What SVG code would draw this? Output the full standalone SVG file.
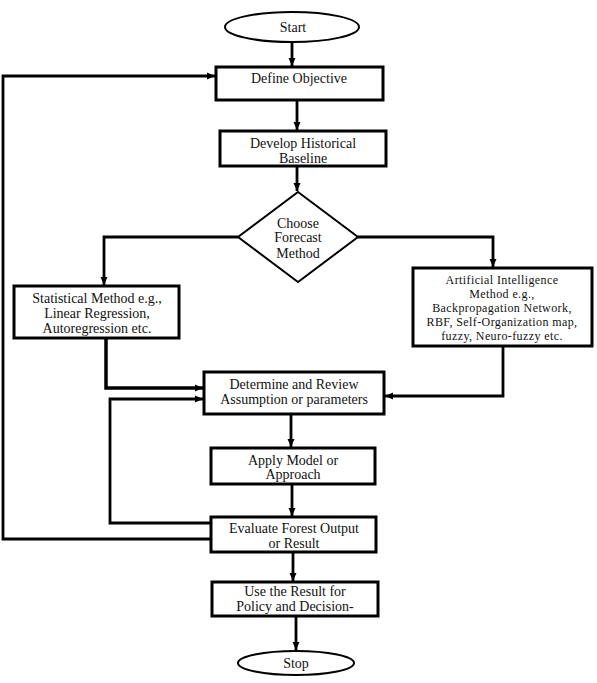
<svg xmlns="http://www.w3.org/2000/svg" width="597" height="683" viewBox="0 0 597 683">
<defs>
<marker id="ah" markerUnits="userSpaceOnUse" markerWidth="9" markerHeight="8" refX="8" refY="4" orient="auto">
<path d="M0,0.5 L8,4 L0,7.5 z" fill="#000"/>
</marker>
<style>
.box{fill:#fff;stroke:#000;stroke-width:3}
.t{font-family:"Liberation Serif","Times New Roman",serif;font-size:14px;fill:#111;text-anchor:middle}
.s{font-size:12px;letter-spacing:0.4px}
.c{fill:none;stroke:#000;stroke-width:2.8}
</style>
</defs>
<rect width="597" height="683" fill="#fff"/>
<g id="connectors">
<path class="c" d="M292,42 V66" marker-end="url(#ah)"/>
<path class="c" d="M297,100 V130" marker-end="url(#ah)"/>
<path class="c" d="M297,166 V191" marker-end="url(#ah)"/>
<path class="c" d="M238,237 H104 V285" marker-end="url(#ah)"/>
<path class="c" d="M358,237 H493 V267" marker-end="url(#ah)"/>
<path class="c" d="M106,338 V388 H203" marker-end="url(#ah)" style="stroke-width:3.5"/>
<path class="c" d="M503,346 V396 H385" marker-end="url(#ah)"/>
<path class="c" d="M291,414 V447" marker-end="url(#ah)"/>
<path class="c" d="M292,484 V516" marker-end="url(#ah)"/>
<path class="c" d="M211,523 H110 V399 H203" marker-end="url(#ah)"/>
<path class="c" d="M211,539 H3 V76 H215" marker-end="url(#ah)"/>
<path class="c" d="M293,552 V581" marker-end="url(#ah)"/>
<path class="c" d="M296,616 V650" marker-end="url(#ah)"/>
</g>
<g id="start">
<ellipse cx="292" cy="27" rx="67" ry="15" fill="#fff" stroke="#000" stroke-width="2"/>
<text class="t" x="293" y="32">Start</text>
</g>
<g id="define">
<rect class="box" x="216" y="67" width="167" height="33"/>
<text class="t" x="299" y="83">Define Objective</text>
</g>
<g id="develop">
<rect class="box" x="220" y="131" width="166" height="35"/>
<text class="t" x="303" y="148">Develop Historical</text>
<text class="t" x="303" y="163">Baseline</text>
</g>
<g id="choose">
<polygon points="298,192 358,237 298,282 238,237" fill="#fff" stroke="#000" stroke-width="2"/>
<text class="t" x="298" y="228">Choose</text>
<text class="t" x="298" y="242">Forecast</text>
<text class="t" x="298" y="258">Method</text>
</g>
<g id="statistical">
<rect class="box" x="14" y="286" width="165" height="52"/>
<text class="t" x="97" y="303">Statistical Method e.g.,</text>
<text class="t" x="97" y="318">Linear Regression,</text>
<text class="t" x="97" y="333">Autoregression etc.</text>
</g>
<g id="ai">
<rect class="box" x="413" y="268" width="179" height="78"/>
<text class="t s" x="502" y="284">Artificial Intelligence</text>
<text class="t s" x="502" y="298">Method e.g.,</text>
<text class="t s" x="502" y="312">Backpropagation Network,</text>
<text class="t s" x="502" y="326">RBF, Self-Organization map,</text>
<text class="t s" x="502" y="340">fuzzy, Neuro-fuzzy etc.</text>
</g>
<g id="determine">
<rect class="box" x="204" y="372" width="180" height="42"/>
<text class="t" x="294" y="389">Determine and Review</text>
<text class="t" x="294" y="404">Assumption or parameters</text>
</g>
<g id="apply">
<rect class="box" x="211" y="448" width="164" height="36"/>
<text class="t" x="293" y="465">Apply Model or</text>
<text class="t" x="293" y="479">Approach</text>
</g>
<g id="evaluate">
<rect class="box" x="211" y="517" width="165" height="35"/>
<text class="t" x="294" y="533">Evaluate Forest Output</text>
<text class="t" x="294" y="548">or Result</text>
</g>
<g id="use">
<rect class="box" x="212" y="582" width="166" height="34"/>
<text class="t" x="295" y="596">Use the Result for</text>
<text class="t" x="295" y="611">Policy and Decision-</text>
</g>
<g id="stop">
<ellipse cx="296" cy="663" rx="58" ry="12" fill="#fff" stroke="#000" stroke-width="2"/>
<text class="t" x="296" y="668">Stop</text>
</g>
</svg>
